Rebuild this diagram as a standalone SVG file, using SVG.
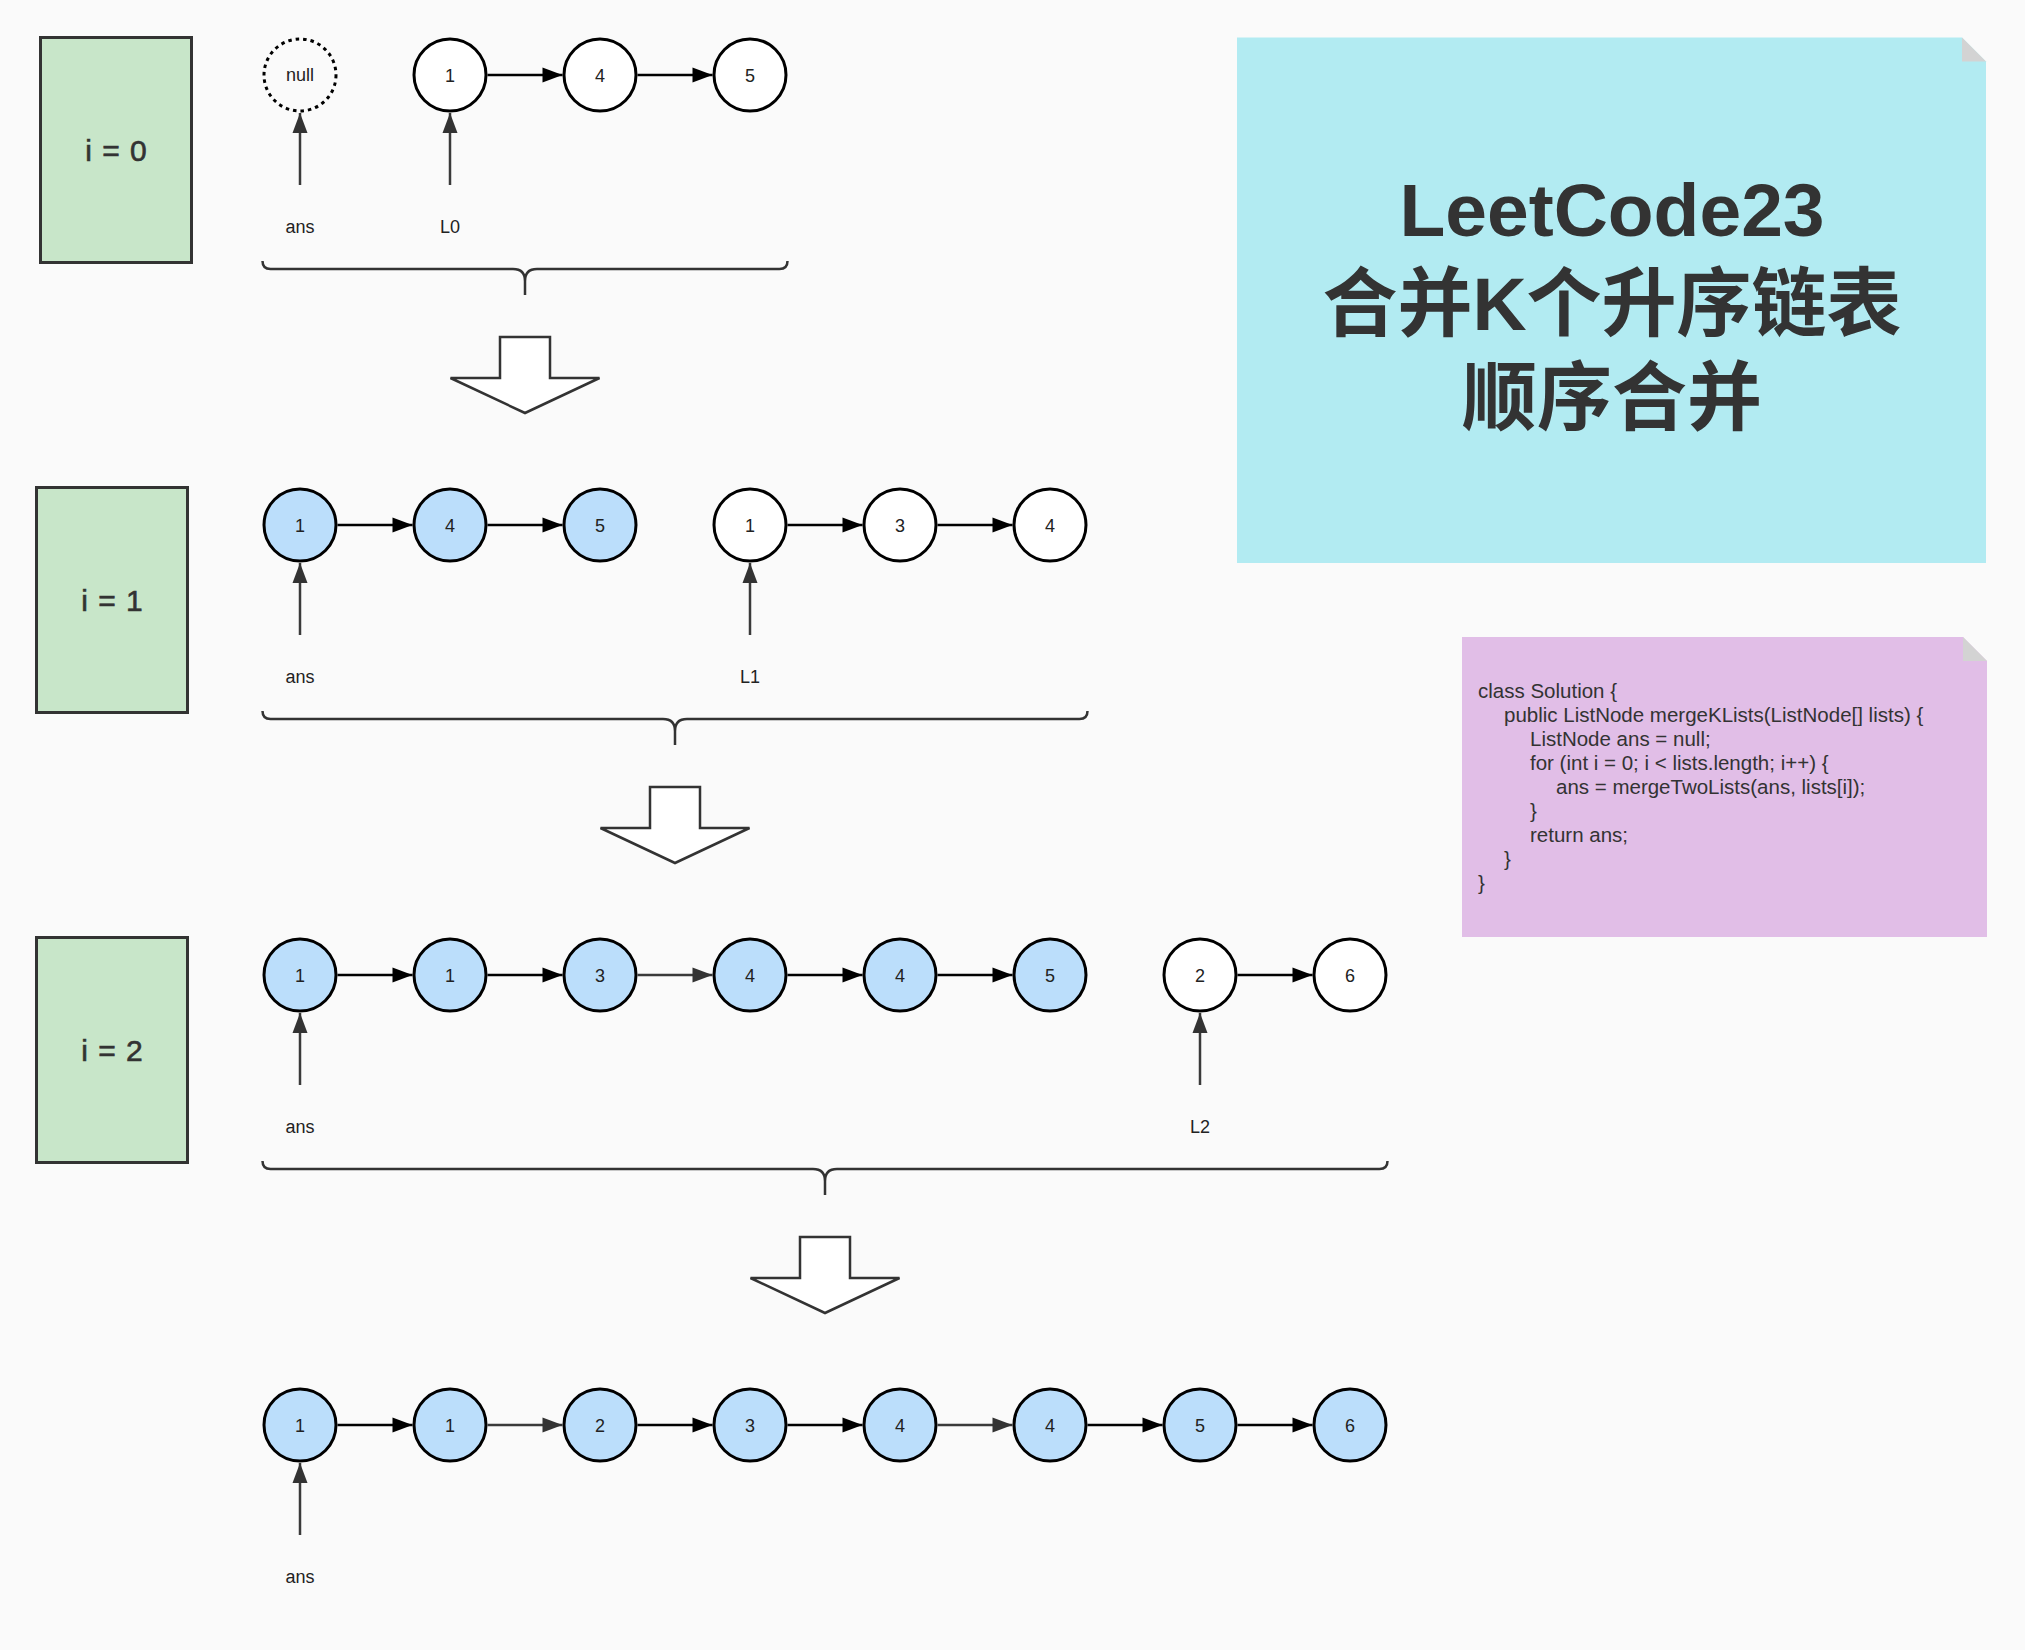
<svg xmlns="http://www.w3.org/2000/svg" width="2025" height="1650" viewBox="0 0 2025 1650">
<style>
.bg{fill:#fafafa}
.step{fill:#c8e6c9;stroke:#333;stroke-width:3}
.steptxt{font-family:"Liberation Sans",Arial,sans-serif;font-size:30px;fill:#333;stroke:#333;stroke-width:0.6;letter-spacing:1px;text-anchor:middle}
.nw{fill:#fff;stroke:#000;stroke-width:3}
.nb{fill:#bbdefb;stroke:#000;stroke-width:3}
.nnull{fill:#fafafa;stroke:#000;stroke-width:3;stroke-dasharray:3.5 4}
.nt{font-family:"Liberation Sans",Arial,sans-serif;font-size:18px;fill:#222;text-anchor:middle}
.lbl{font-family:"Liberation Sans",Arial,sans-serif;font-size:18px;fill:#222;text-anchor:middle}
.c{fill:none;stroke:#000;stroke-width:2.5;marker-end:url(#ah)}
.cg{fill:none;stroke:#3a3a3a;stroke-width:2.5;marker-end:url(#ahg)}
.brace{fill:none;stroke:#333;stroke-width:2.5}
.blk{fill:#fff;stroke:#333;stroke-width:2.5;stroke-linejoin:miter}
.title{font-family:"Liberation Sans","Noto Sans CJK SC",sans-serif;font-size:75px;font-weight:bold;fill:#333;text-anchor:middle}
.code{font-family:"Liberation Sans","Noto Sans CJK SC",sans-serif;font-size:20.5px;fill:#333}
</style>
<defs>
<marker id="ah" markerUnits="userSpaceOnUse" markerWidth="20" markerHeight="15" refX="20" refY="7.5" orient="auto" overflow="visible"><path d="M0,0 L20,7.5 L0,15 z" fill="#000"/></marker>
<marker id="ahg" markerUnits="userSpaceOnUse" markerWidth="20" markerHeight="15" refX="20" refY="7.5" orient="auto" overflow="visible"><path d="M0,0 L20,7.5 L0,15 z" fill="#333"/></marker>
</defs>
<rect class="bg" x="0" y="0" width="2025" height="1650"/>

<g id="step0"><rect class="step" x="40.5" y="37.5" width="151" height="225"/><text class="steptxt" x="116.5" y="161">i = 0</text></g>
<g id="step1"><rect class="step" x="36.5" y="487.5" width="151" height="225"/><text class="steptxt" x="112.5" y="611">i = 1</text></g>
<g id="step2"><rect class="step" x="36.5" y="937.5" width="151" height="225"/><text class="steptxt" x="112.5" y="1061">i = 2</text></g>

<g id="title-note">
<polygon points="1237,37.5 1962,37.5 1986,61.5 1986,563 1237,563" fill="#b2ebf2"/>
<polygon points="1962,37.5 1962,61.5 1986,61.5" fill="#d3d3d3"/>
<text class="title" x="1612" y="236">LeetCode23</text>
<text class="title" x="1612" y="330">合并K个升序链表</text>
<text class="title" x="1612" y="424">顺序合并</text>
</g>

<g id="code-note">
<polygon points="1462,637 1963,637 1987,661 1987,937 1462,937" fill="#e1bee7"/>
<polygon points="1963,637 1963,661 1987,661" fill="#d3d3d3"/>
<text class="code" x="1478" y="698">class Solution {</text>
<text class="code" x="1504" y="722">public ListNode mergeKLists(ListNode[] lists) {</text>
<text class="code" x="1530" y="746">ListNode ans = null;</text>
<text class="code" x="1530" y="770">for (int i = 0; i &lt; lists.length; i++) {</text>
<text class="code" x="1556" y="794">ans = mergeTwoLists(ans, lists[i]);</text>
<text class="code" x="1530" y="818">}</text>
<text class="code" x="1530" y="842">return ans;</text>
<text class="code" x="1504" y="866">}</text>
<text class="code" x="1478" y="890">}</text>
</g>

<!-- row 0 -->
<g id="r0-null"><circle class="nnull" cx="300" cy="75" r="36"/><text class="nt" x="300" y="81">null</text></g>
<g id="r0-n1"><circle class="nw" cx="450" cy="75" r="36"/><text class="nt" x="450" y="81.5">1</text></g>
<g id="r0-n4"><circle class="nw" cx="600" cy="75" r="36"/><text class="nt" x="600" y="81.5">4</text></g>
<g id="r0-n5"><circle class="nw" cx="750" cy="75" r="36"/><text class="nt" x="750" y="81.5">5</text></g>
<g id="r0-ans"><text class="lbl" x="300" y="233">ans</text></g>
<g id="r0-L0"><text class="lbl" x="450" y="233">L0</text></g>

<!-- row 1 -->
<g id="r1-a1"><circle class="nb" cx="300" cy="525" r="36"/><text class="nt" x="300" y="531.5">1</text></g>
<g id="r1-a4"><circle class="nb" cx="450" cy="525" r="36"/><text class="nt" x="450" y="531.5">4</text></g>
<g id="r1-a5"><circle class="nb" cx="600" cy="525" r="36"/><text class="nt" x="600" y="531.5">5</text></g>
<g id="r1-b1"><circle class="nw" cx="750" cy="525" r="36"/><text class="nt" x="750" y="531.5">1</text></g>
<g id="r1-b3"><circle class="nw" cx="900" cy="525" r="36"/><text class="nt" x="900" y="531.5">3</text></g>
<g id="r1-b4"><circle class="nw" cx="1050" cy="525" r="36"/><text class="nt" x="1050" y="531.5">4</text></g>
<g id="r1-ans"><text class="lbl" x="300" y="683">ans</text></g>
<g id="r1-L1"><text class="lbl" x="750" y="683">L1</text></g>

<!-- row 2 -->
<g id="r2-a1"><circle class="nb" cx="300" cy="975" r="36"/><text class="nt" x="300" y="981.5">1</text></g>
<g id="r2-a1b"><circle class="nb" cx="450" cy="975" r="36"/><text class="nt" x="450" y="981.5">1</text></g>
<g id="r2-a3"><circle class="nb" cx="600" cy="975" r="36"/><text class="nt" x="600" y="981.5">3</text></g>
<g id="r2-a4"><circle class="nb" cx="750" cy="975" r="36"/><text class="nt" x="750" y="981.5">4</text></g>
<g id="r2-a4b"><circle class="nb" cx="900" cy="975" r="36"/><text class="nt" x="900" y="981.5">4</text></g>
<g id="r2-a5"><circle class="nb" cx="1050" cy="975" r="36"/><text class="nt" x="1050" y="981.5">5</text></g>
<g id="r2-b2"><circle class="nw" cx="1200" cy="975" r="36"/><text class="nt" x="1200" y="981.5">2</text></g>
<g id="r2-b6"><circle class="nw" cx="1350" cy="975" r="36"/><text class="nt" x="1350" y="981.5">6</text></g>
<g id="r2-ans"><text class="lbl" x="300" y="1133">ans</text></g>
<g id="r2-L2"><text class="lbl" x="1200" y="1133">L2</text></g>

<!-- row 3 -->
<g id="r3-1"><circle class="nb" cx="300" cy="1425" r="36"/><text class="nt" x="300" y="1431.5">1</text></g>
<g id="r3-1b"><circle class="nb" cx="450" cy="1425" r="36"/><text class="nt" x="450" y="1431.5">1</text></g>
<g id="r3-2"><circle class="nb" cx="600" cy="1425" r="36"/><text class="nt" x="600" y="1431.5">2</text></g>
<g id="r3-3"><circle class="nb" cx="750" cy="1425" r="36"/><text class="nt" x="750" y="1431.5">3</text></g>
<g id="r3-4"><circle class="nb" cx="900" cy="1425" r="36"/><text class="nt" x="900" y="1431.5">4</text></g>
<g id="r3-4b"><circle class="nb" cx="1050" cy="1425" r="36"/><text class="nt" x="1050" y="1431.5">4</text></g>
<g id="r3-5"><circle class="nb" cx="1200" cy="1425" r="36"/><text class="nt" x="1200" y="1431.5">5</text></g>
<g id="r3-6"><circle class="nb" cx="1350" cy="1425" r="36"/><text class="nt" x="1350" y="1431.5">6</text></g>
<g id="r3-ans"><text class="lbl" x="300" y="1583">ans</text></g>

<g id="connectors">
<!-- row 0 -->
<path class="c" d="M487.5,75 L562.5,75"/>
<path class="c" d="M637.5,75 L712.5,75"/>
<path class="cg" d="M300,185 L300,113"/>
<path class="cg" d="M450,185 L450,113"/>
<!-- row 1 -->
<path class="c" d="M337.5,525 L412.5,525"/>
<path class="c" d="M487.5,525 L562.5,525"/>
<path class="c" d="M787.5,525 L862.5,525"/>
<path class="c" d="M937.5,525 L1012.5,525"/>
<path class="cg" d="M300,635 L300,563"/>
<path class="cg" d="M750,635 L750,563"/>
<!-- row 2 -->
<path class="c" d="M337.5,975 L412.5,975"/>
<path class="c" d="M487.5,975 L562.5,975"/>
<path class="cg" d="M637.5,975 L712.5,975"/>
<path class="c" d="M787.5,975 L862.5,975"/>
<path class="c" d="M937.5,975 L1012.5,975"/>
<path class="c" d="M1237.5,975 L1312.5,975"/>
<path class="cg" d="M300,1085 L300,1013"/>
<path class="cg" d="M1200,1085 L1200,1013"/>
<!-- row 3 -->
<path class="c" d="M337.5,1425 L412.5,1425"/>
<path class="cg" d="M487.5,1425 L562.5,1425"/>
<path class="c" d="M637.5,1425 L712.5,1425"/>
<path class="c" d="M787.5,1425 L862.5,1425"/>
<path class="cg" d="M937.5,1425 L1012.5,1425"/>
<path class="c" d="M1087.5,1425 L1162.5,1425"/>
<path class="c" d="M1237.5,1425 L1312.5,1425"/>
<path class="cg" d="M300,1535 L300,1463"/>
</g>

<g id="braces">
<path class="brace" d="M262.5,261 Q262.5,269 270.5,269 L513,269 Q525,269 525,281 L525,295 M525,281 Q525,269 537,269 L779.5,269 Q787.5,269 787.5,261"/>
<path class="brace" d="M262.5,711 Q262.5,719 270.5,719 L663,719 Q675,719 675,731 L675,745 M675,731 Q675,719 687,719 L1079.5,719 Q1087.5,719 1087.5,711"/>
<path class="brace" d="M262.5,1161 Q262.5,1169 270.5,1169 L813,1169 Q825,1169 825,1181 L825,1195 M825,1181 Q825,1169 837,1169 L1379.5,1169 Q1387.5,1169 1387.5,1161"/>
</g>

<g id="down-arrows">
<path class="blk" d="M500,337 L550,337 L550,378 L599.5,378 L525,413 L450.5,378 L500,378 Z"/>
<path class="blk" d="M650,787 L700,787 L700,828 L749.5,828 L675,863 L600.5,828 L650,828 Z"/>
<path class="blk" d="M800,1237 L850,1237 L850,1278 L899.5,1278 L825,1313 L750.5,1278 L800,1278 Z"/>
</g>
</svg>
